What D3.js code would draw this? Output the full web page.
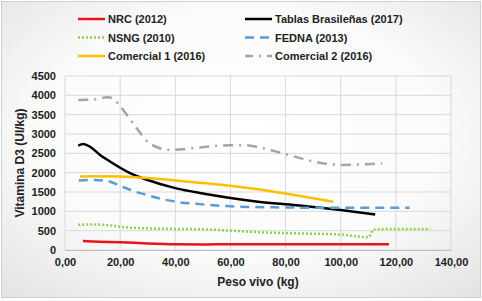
<!DOCTYPE html>
<html><head><meta charset="utf-8">
<script src="https://cdn.jsdelivr.net/npm/d3@7"></script>
<style>html,body{margin:0;padding:0;background:#fff}svg{display:block}text{font-family:"Liberation Sans",Arial,sans-serif;font-weight:bold;fill:#222}</style>
</head><body><svg id="c" width="482" height="301"></svg>
<script>
const xTicks = [0,20,40,60,80,100,120,140];
const yTicks = [0,500,1000,1500,2000,2500,3000,3500,4000,4500];
const nrc = [[6.5,230],[10,220],[20,200],[30,170],[40,150],[50,145],[60,150],[80,150],[100,150],[117.5,150]];
const tablas = [[4.8,2700],[6.6,2740],[9.1,2670],[12.7,2460],[16.3,2290],[23.6,1990],[30,1810],[40,1600],[50,1460],[60,1345],[70,1250],[84,1160],[100,1035],[112.5,920]];
const nsng = [[4.8,650],[10,660],[16,640],[20,600],[30,560],[40,545],[50,535],[60,500],[70,460],[84,430],[100,400],[110,330],[112,530],[120,545],[132.5,545]];
const fedna = [[5,1800],[10,1810],[15,1790],[20,1660],[25,1520],[30,1420],[35,1320],[40,1250],[50,1180],[60,1130],[80,1100],[100,1090],[125,1090]];
const com1 = [[5.4,1900],[10,1910],[20,1900],[30,1860],[40,1800],[50,1730],[60,1660],[70,1570],[80,1460],[90,1340],[97.3,1250]];
const com2 = [[4.8,3880],[10,3890],[15.5,3950],[18,3880],[20,3720],[26,3150],[30,2800],[33,2670],[38,2590],[50,2660],[60,2710],[65,2710],[70,2660],[80,2480],[90,2290],[100,2200],[110,2220],[115,2240]];
const seriesNames = ["NRC (2012)","Tablas Brasileñas (2017)","NSNG (2010)","FEDNA (2013)","Comercial 1 (2016)","Comercial 2 (2016)"];

const series = [
 {name:seriesNames[0], data:nrc, color:"#e8141b", dash:null, w:2.5},
 {name:seriesNames[1], data:tablas, color:"#000000", dash:null, w:2.5},
 {name:seriesNames[2], data:nsng, color:"#8fd14f", dash:"2,2", w:2.5},
 {name:seriesNames[3], data:fedna, color:"#5b9bd5", dash:"9,6", w:2.5},
 {name:seriesNames[4], data:com1, color:"#ffc000", dash:null, w:2.5},
 {name:seriesNames[5], data:com2, color:"#a5a5a5", dash:"10,6,2,6", w:2.5}
];

const svg = d3.select("#c");
const defs = svg.append("defs");
const g = defs.append("radialGradient").attr("id","bg").attr("cx","50%").attr("cy","45%").attr("r","75%");
g.append("stop").attr("offset","0%").attr("stop-color","#ffffff");
g.append("stop").attr("offset","55%").attr("stop-color","#fbfbfb");
g.append("stop").attr("offset","100%").attr("stop-color","#e2e2e2");
svg.append("rect").attr("x",1.5).attr("y",1.5).attr("width",479).attr("height",296).attr("fill","url(#bg)").attr("stroke","#d0d0d0");

const x = d3.scaleLinear().domain([0,140]).range([65,451]);
const y = d3.scaleLinear().domain([0,4500]).range([250,76]);

svg.append("g").selectAll("line.h").data(yTicks).join("line")
 .attr("x1",65).attr("x2",451).attr("y1",d=>y(d)).attr("y2",d=>y(d)).attr("stroke","#d9d9d9").attr("stroke-width",1);
svg.append("g").selectAll("line.v").data(xTicks).join("line")
 .attr("x1",d=>x(d)).attr("x2",d=>x(d)).attr("y1",76).attr("y2",250).attr("stroke","#d9d9d9").attr("stroke-width",1);

const fmt = d => d.toFixed(2).replace(".",",");
const xa = svg.append("g").attr("transform","translate(0,250)").call(d3.axisBottom(x).tickValues(xTicks).tickFormat(fmt).tickSize(0).tickPadding(8));
xa.select(".domain").attr("stroke","#bfbfbf");
xa.selectAll("text").style("font-size","11px").attr("font-family",null);
const ya = svg.append("g").attr("transform","translate(65,0)").call(d3.axisLeft(y).tickValues(yTicks).tickFormat(d3.format("d")).tickSize(0).tickPadding(9));
ya.select(".domain").remove();
ya.selectAll("text").style("font-size","11px").attr("font-family",null);

svg.append("text").attr("x",258).attr("y",286).attr("text-anchor","middle").style("font-size","12px").text("Peso vivo (kg)");
svg.append("text").attr("transform","translate(24,163) rotate(-90)").attr("text-anchor","middle").style("font-size","12px").text("Vitamina D3 (UI/kg)");

const line = d3.line().x(d=>x(d[0])).y(d=>y(d[1])).curve(d3.curveMonotoneX);
series.forEach(s=>{
  svg.append("path").datum(s.data).attr("d",line).attr("fill","none").attr("stroke",s.color)
   .attr("stroke-width",s.w).attr("stroke-dasharray",s.dash);
});

const leg = svg.append("g");
series.forEach((s,i)=>{
  const col = i%2, row = Math.floor(i/2);
  const lx = col===0 ? 78 : 245, ly = 19 + row*18.5;
  leg.append("line").attr("x1",lx).attr("x2",lx+27).attr("y1",ly).attr("y2",ly).attr("stroke",s.color).attr("stroke-width",2.5)
   .attr("stroke-dasharray", s.dash===null?null:(i===2?"2,2":(i===3?"9,6":"8,6,2,6")));
  leg.append("text").attr("x",lx+30).attr("y",ly+4).style("font-size","11px").text(s.name);
});
</script></body></html>
